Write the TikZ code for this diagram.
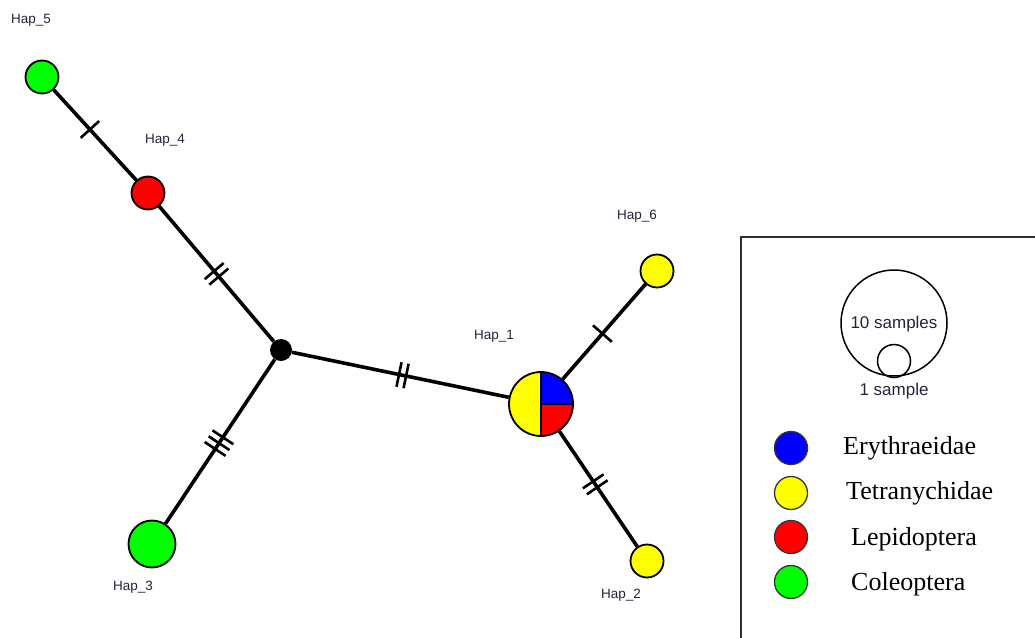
\documentclass[tikz,border=0pt]{standalone}
\usepackage{fontspec}
\setmainfont{Liberation Serif}
\newfontfamily\labelfont{Liberation Sans}
\usetikzlibrary{decorations.markings,backgrounds}

\definecolor{hapgreen}{RGB}{0,255,0}
\definecolor{hapred}{RGB}{255,0,0}
\definecolor{hapyellow}{RGB}{255,255,0}
\definecolor{hapblue}{RGB}{0,0,255}
\definecolor{labelink}{RGB}{35,35,60}
\definecolor{frameink}{RGB}{45,45,45}

\tikzset{
  hap/.style={circle,draw=black,line width=1.8pt,inner sep=0pt,minimum size=#1},
  haplabel/.style={inner sep=0pt,text=labelink,font=\labelfont\fontsize{13.5}{15}\selectfont},
  link/.style={line width=3.6pt,black},
  tickline/.style={line width=2.6pt,black},
  mutone/.style={postaction={decorate,decoration={markings,
      mark=at position #1 with {\draw[tickline] (0,-12.5)--(0,12.5);}}}},
  muttwo/.style={postaction={decorate,decoration={markings,
      mark=at position #1 with {\draw[tickline] (-3.6,-12.5)--(-3.6,12.5) (3.6,-12.5)--(3.6,12.5);}}}},
  mutthree/.style={postaction={decorate,decoration={markings,
      mark=at position #1 with {\draw[tickline] (-7,-12.5)--(-7,12.5) (0,-12.5)--(0,12.5) (7,-12.5)--(7,12.5);}}}},
  swatch/.style={circle,draw=black!80,line width=1.3pt,inner sep=0pt,minimum size=33pt},
  legtext/.style={anchor=base west,inner sep=0pt,font=\fontsize{26}{30}\selectfont},
  sizetext/.style={inner sep=0pt,text=labelink,font=\labelfont\fontsize{17}{19}\selectfont},
}

\begin{document}
\begin{tikzpicture}[x=1pt,y=1pt]
\useasboundingbox (0,0) rectangle (1035,-637);

% haplotype nodes
\node[hap=33pt,fill=hapgreen]  (h5) at (42,-77) {};
\node[hap=33pt,fill=hapred]    (h4) at (148,-193) {};
\node[circle,fill=black,inner sep=0pt,minimum size=22pt] (mv) at (281,-350) {};
\node[hap=47pt,fill=hapgreen]  (h3) at (152,-544) {};
\node[hap=64pt]                (h1) at (541,-404) {};
\node[hap=33pt,fill=hapyellow] (h6) at (657,-271) {};
\node[hap=33pt,fill=hapyellow] (h2) at (647,-561) {};

% pie slices of Hap_1 and connectors, beneath the node outlines
\begin{pgfonlayer}{background}
  \draw[link,mutone=0.44]   (h5) -- (h4);
  \draw[link,muttwo=0.50]   (h4) -- (mv);
  \draw[link,mutthree=0.51] (mv) -- (h3);
  \draw[link,muttwo=0.51]   (mv) -- (h1);
  \draw[link,mutone=0.48]   (h1) -- (h6);
  \draw[link,muttwo=0.46]   (h1) -- (h2);
  \fill[hapyellow] (h1.center) -- ++(90:32) arc[start angle=90,end angle=270,radius=32] -- cycle;
  \fill[hapblue]   (h1.center) -- ++(0:32) arc[start angle=0,end angle=90,radius=32] -- cycle;
  \fill[hapred]    (h1.center) -- ++(270:32) arc[start angle=270,end angle=360,radius=32] -- cycle;
\end{pgfonlayer}
\draw[line width=1.8pt] (h1.north) -- (h1.south) (h1.center) -- (h1.east);

% haplotype labels
\node[haplabel] (l5) at (31,-20)  {Hap\_5};
\node[haplabel] (l4) at (165,-140) {Hap\_4};
\node[haplabel] (l6) at (637,-216) {Hap\_6};
\node[haplabel] (l1) at (494,-336) {Hap\_1};
\node[haplabel] (l3) at (133,-587) {Hap\_3};
\node[haplabel] (l2) at (621,-595) {Hap\_2};

% legend frame
\draw[line width=2pt,draw=frameink] (741,-237) rectangle (1045,-650);

% sample-size key
\node[circle,draw=black,line width=1.5pt,inner sep=0pt,minimum size=106pt] (big) at (894,-323) {};
\node[circle,draw=black,line width=1.5pt,inner sep=0pt,minimum size=33pt] (small) at (894,-361) {};
\node[sizetext] (tbig) at (894,-324) {10 samples};
\node[sizetext] (tsmall) at (894,-391) {1 sample};

% colour key
\node[swatch,fill=hapblue]   (s1) at (791,-448) {};
\node[swatch,fill=hapyellow] (s2) at (791,-493) {};
\node[swatch,fill=hapred]    (s3) at (791,-537) {};
\node[swatch,fill=hapgreen]  (s4) at (791,-582) {};
\node[legtext] (t1) at (843,-454) {Erythraeidae};
\node[legtext] (t2) at (846,-499) {Tetranychidae};
\node[legtext] (t3) at (851,-545) {Lepidoptera};
\node[legtext] (t4) at (851,-590) {Coleoptera};
\end{tikzpicture}
\end{document}
